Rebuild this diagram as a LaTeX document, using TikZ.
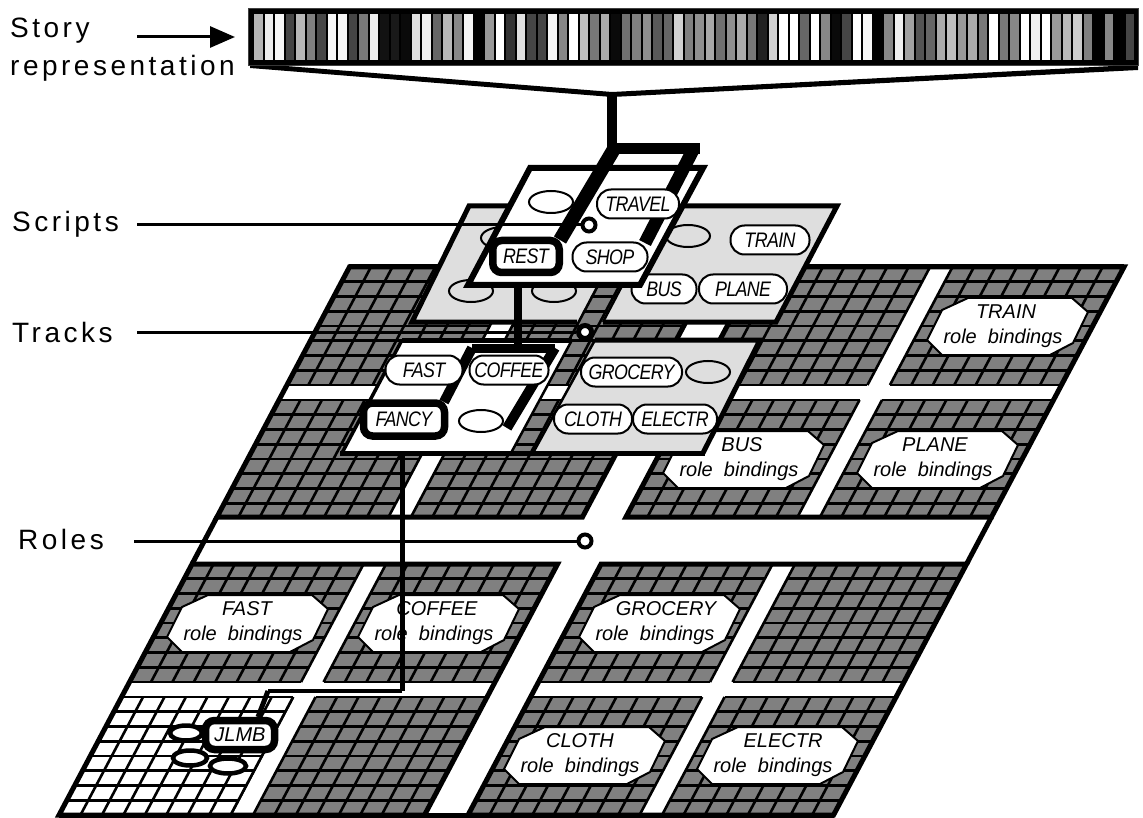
\documentclass[tikz,border=0pt]{standalone}
\usepackage{fontspec}
\setmainfont{Liberation Sans}
\newfontfamily\pillfont[FakeStretch=0.85,LetterSpace=-3.0]{Liberation Sans}
\newfontfamily\widefont[LetterSpace=12.5]{Liberation Sans}
\usetikzlibrary{shapes.geometric, arrows.meta, positioning}

\definecolor{cellgray}{HTML}{808080}
\definecolor{planegray}{HTML}{DEDEDE}

% One role panel: left, top, fill
\newcommand{\gridpanel}[3]{
    \fill[#3] (#1,#2) rectangle ++(171.5,118);
    \foreach \k in {0,...,8} {
        \draw[gridline] (#1,#2+\k*14.75) -- ++(171.5,0);
        \draw[gridline] (#1+\k*21.44,#2) -- ++(0,118);
    }
}

% Cut-corner label: name, x, y, title offset, title
\newcommand{\bindingbox}[5]{
    \draw[bindbox, shift={(#2,#3)}] (-40,-28) -- (64,-28) -- (80,-14) -- (65,17)
        -- (42,29) -- (-66,29) -- (-81,14) -- (-66,-16) -- cycle;
    \node[bindlabel] (#1title) at (#2+#4,#3-14) {#5};
    \node[bindlabel] (#1roles) at (#2-5,#3+12) {role~~bindings};
}

\begin{document}
\begin{tikzpicture}[
    x=1pt, y=-1pt,
    % Define standard styles for the diagram components
    gridline/.style={line width=2.6pt, black},
    frameline/.style={line width=5pt, black, line join=miter},
    planeedge/.style={line width=5pt, black, line join=miter},
    thinedge/.style={line width=2.5pt, black},
    bindbox/.style={draw=black, fill=white, line width=2pt},
    bindlabel/.style={font=\fontsize{20}{24}\selectfont\itshape, inner sep=0pt},
    pillbox/.style={
        rectangle,
        draw=black,
        fill=white,
        line width=2pt,
        minimum width=#1,
        minimum height=29,
        inner sep=0pt,
        rounded corners=14pt,
        font=\fontsize{21}{24}\selectfont\pillfont\itshape
    },
    chosenbox/.style={
        pillbox=#1,
        line width=7.5pt,
        minimum height=32,
        rounded corners=9pt
    },
    slotoval/.style={
        ellipse,
        draw=black,
        fill=#1,
        line width=2pt,
        minimum width=44,
        minimum height=22,
        inner sep=0pt
    },
    boundoval/.style={
        ellipse,
        draw=black,
        fill=white,
        line width=4.5pt,
        minimum width=#1,
        minimum height=15,
        inner sep=0pt
    },
    levellabel/.style={
        anchor=base west,
        inner sep=0pt,
        font=\fontsize{28}{32}\selectfont\widefont
    },
    probedot/.style={
        circle,
        draw=black,
        fill=white,
        line width=#1,
        minimum size=13,
        inner sep=0pt
    },
    leader/.style={line width=3pt, black},
    arrow/.style={
        -{Triangle[length=25pt, width=21pt]},
        line width=3pt
    },
    heavylink/.style={line width=#1, black, line join=miter}
]
\useasboundingbox (0,0) rectangle (1143,818);

% --- Story bar ---
\draw[black!75, fill=black, line width=1pt] (248,9) rectangle (1138,66);
\foreach \g [count=\i from 0] in {29,7,3,73,28,50,72,3,4,73,53,7,93,90,96,13,6,60,28,47,4,100,40,0,80,12,73,73,4,47,0,25,53,33,96,
    56,50,44,65,60,18,50,44,34,56,44,33,53,87,18,0,0,60,0,47,96,73,0,3,100,47,6,37,67,60,33,25,40,33,53,0,53,47,0,6,0,40,28,20,50,100,47,100,73} {
    \fill[black!\g] (254+\i*10.5,14) rectangle ++(8.7,46);
}
\coordinate (barhub) at (612,95);
\fill (250,66) -- (286,66) -- (612,92) -- (1113,66) -- (1138,66) -- (1138,70) -- (612,97) -- (250,68) -- cycle;

% --- Role panels ---
\begin{scope}[xslant=0.53]
    \foreach \u in {491,685,900,1094} {
        \foreach \v in {267,400,564,697} {
            \gridpanel{\u}{\v}{cellgray}
        }
    }
    \gridpanel{491}{697}{white}
    % Quadrant borders
    \foreach \u in {491,900} {
        \foreach \v/\h in {267/250,564/251} {
            \draw[frameline] (\u,\v) rectangle ++(365.5,\h);
        }
    }
    \draw[frameline] (491,517) -- (491,564);
    \draw[frameline] (1265.5,517) -- (1265.5,564);
    \draw[frameline] (491,815) -- (1265.5,815);
    \draw[frameline] (491,267) -- (1265.5,267);
\end{scope}

\bindingbox{train}{1008}{326}{-2}{TRAIN}
\bindingbox{bus}{744}{459}{-2}{BUS}
\bindingbox{plane}{938}{459}{-3}{PLANE}
\bindingbox{fast}{248}{623}{-1}{FAST}
\bindingbox{coffee}{439}{623}{-2}{COFFEE}
\bindingbox{grocery}{660}{623}{6}{GROCERY}
\bindingbox{cloth}{585}{755}{-5}{CLOTH}
\bindingbox{electr}{778}{755}{5}{ELECTR}

% --- Link down to the roles ---
\coordinate (trackbase) at (402,453);
\coordinate (rolecorner) at (402,691);
\coordinate (rolebend) at (268,691);
\draw[heavylink=5pt] (trackbase) -- (rolecorner);
\draw[heavylink=3.5pt] (rolecorner) -- (rolebend);

% --- Bound role ---
\node[boundoval=32] (bounda) at (186,733) {};
\node[boundoval=34] (boundb) at (190,758) {};
\node[boundoval=36] (boundc) at (228,766) {};
\draw[heavylink=5pt] (rolebend) -- (258,717);
\node[chosenbox=69, minimum height=29, font=\fontsize{20}{24}\selectfont\itshape] (jlmb) at (240,735) {JLMB};

% --- Tracks ---
\fill[white] (402,340) -- (572,340) -- (511,453) -- (342,453) -- cycle;
\fill[planegray] (595,340) -- (760,340) -- (703,453) -- (533,453) -- cycle;
\draw[thinedge] (572,340) -- (511,453);
\draw[thinedge] (595,340) -- (533,453);
\draw[line width=3.5pt] (402,340) -- (342,453);
\draw[planeedge] (402,340) -- (572,340);
\draw[planeedge] (595,340) -- (760,340) -- (703,453);
\draw[planeedge] (340,453) -- (705,453);

% --- Scripts, back planes ---
\fill[planegray] (469,206) -- (638,206) -- (577,322) -- (412,322) -- cycle;
\fill[planegray] (664,206) -- (837,206) -- (776,322) -- (603,322) -- cycle;
\draw[planeedge] (577,322) -- (412,322) -- (469,206) -- (645,206);
\draw[thinedge] (664,206) -- (603,322);
\draw[planeedge] (650,206) -- (837,206) -- (776,322) -- (603,322);

\node[slotoval=planegray] (emptya) at (503,238) {};
\node[slotoval=planegray] (emptyb) at (471,291) {};
\node[slotoval=planegray] (emptyc) at (554,291) {};
\node[slotoval=planegray] (emptyd) at (688,236) {};
\node[pillbox=79] (trainpill) at (770,240) {TRAIN};
\node[pillbox=65] (buspill) at (664,289) {BUS};
\node[pillbox=88] (planepill) at (743,289) {PLANE};

% --- Scripts, front plane ---
\draw[line width=6pt, line join=miter, fill=white] (530,168) -- (703,168) -- (640,285) -- (468,285) -- cycle;

% --- Tracks leader and plane link ---
\coordinate (tracksfrom) at (137,332);
\node[probedot=5pt] (tracksdot) at (585,332) {};
\draw[leader] (tracksfrom) -- (tracksdot);
\coordinate (scriptbase) at (518,285);
\coordinate (trackhub) at (518,348);
\coordinate (trackleft) at (472,348);
\coordinate (trackright) at (555,348);
\coordinate (trackend) at (507,428);
\coordinate (fancyin) at (444,402);
\draw[heavylink=8pt] (scriptbase) -- (trackhub);
\draw[heavylink=9pt] (trackleft) -- (trackright);
\draw[heavylink=10pt] (trackleft) -- (fancyin);
\draw[heavylink=10pt] (trackright) -- (trackend);
\node[chosenbox=81, minimum height=33] (fancy) at (404,419.5) {FANCY};
\node[slotoval=white] (trackoval) at (481,421) {};
\node[pillbox=77] (fastpill) at (424,370) {FAST};
\node[pillbox=79] (coffeepill) at (509,370) {COFFEE};
\node[pillbox=101] (grocerypill) at (631.5,372) {GROCERY};
\node[slotoval=planegray] (groceryoval) at (708,372) {};
\node[pillbox=78] (clothpill) at (593,419) {CLOTH};
\node[pillbox=84] (electrpill) at (675,419) {ELECTR};

% --- Link from the story bar ---
\coordinate (scripthub) at (614,149);
\coordinate (scriptright) at (700,149);
\coordinate (restin) at (560,240);
\coordinate (shopin) at (645,243);
\draw[heavylink=10pt] (barhub) -- (612,149);
\draw[heavylink=11pt] (607,149) -- (scriptright);
\draw[heavylink=13pt] (693,150) -- (shopin);
\draw[heavylink=14pt] (scripthub) -- (restin);
\node[slotoval=white] (scriptoval) at (551,202) {};
\node[chosenbox=66.5] (rest) at (526,256.5) {REST};
\node[pillbox=82] (travelpill) at (638,204) {TRAVEL};
\node[pillbox=75] (shoppill) at (610,257) {SHOP};

% --- Level labels and leaders ---
\node[levellabel] (storylabel) at (10,38) {Story};
\node[levellabel] (replabel) at (10,76) {representation};
\node[levellabel] (scriptlabel) at (12,232) {Scripts};
\node[levellabel] (tracklabel) at (12,342) {Tracks};
\node[levellabel] (rolelabel) at (18,549) {Roles};

\coordinate (storyfrom) at (137,37);
\draw[arrow] (storyfrom) -- (235,37);

\coordinate (scriptsfrom) at (137,225);
\node[probedot=4pt] (scriptsdot) at (589,225) {};
\draw[leader] (scriptsfrom) -- (scriptsdot);

\coordinate (rolesfrom) at (134,541);
\node[probedot=4pt] (rolesdot) at (585,541) {};
\draw[leader] (rolesfrom) -- (rolesdot);
\end{tikzpicture}
\end{document}
